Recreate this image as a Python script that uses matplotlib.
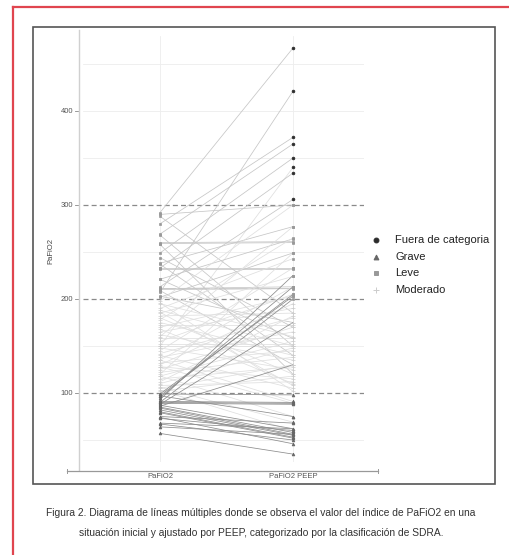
import numpy as np
import matplotlib.pyplot as plt
from matplotlib.lines import Line2D
from matplotlib.patches import Rectangle
import matplotlib.transforms as mtransforms

plt.rcParams['font.family'] = ['Liberation Sans', 'DejaVu Sans']

# PaFiO2 inicial y ajustado por PEEP, un paciente por posicion
pafio2_inicial = [
    292, 207, 280, 269, 249, 150, 233, 213,
    290, 260, 259, 238, 233, 232, 212, 211, 210, 221, 202,
    288, 268, 258, 244, 237, 221, 209, 203,
    198, 190, 185, 178, 170, 160, 145, 135, 120, 155,
    195, 188, 182, 180, 175, 172, 168, 165, 162, 158, 152, 150, 148, 142,
    140, 138, 132, 130, 128, 125, 122, 118, 115, 112, 110, 108, 105, 102,
    196, 186,
    128, 118, 106, 103, 135,
    99, 97, 95, 93, 90, 88, 86,
    91, 90, 89, 87, 85, 84, 82, 80, 79, 75, 74, 73, 68, 67, 64, 57, 99, 97,
]
pafio2_peep = [
    467, 421, 372, 365, 350, 340, 334, 306,
    300, 261, 260, 277, 233, 232, 212, 213, 211, 264, 249,
    185, 150, 120, 170, 140, 158, 130, 175,
    300, 243, 224, 265, 203, 277, 233, 213, 249, 205,
    160, 150, 185, 120, 140, 172, 110, 190, 135, 158, 152, 150, 125, 180,
    105, 165, 145, 195, 115, 170, 138, 155, 128, 182, 148, 112, 130, 118,
    102, 108,
    89, 75, 69, 60, 91,
    203, 205, 213, 225, 200, 175, 130,
    90, 89, 88, 62, 58, 56, 55, 53, 52, 68, 46, 60, 62, 50, 56, 35, 98, 75,
]

momentos = ['PaFiO2', 'PaFiO2 PEEP']
categorias = ['Fuera de categoria', 'Grave', 'Leve', 'Moderado']
colores = {'Fuera de categoria': '#2b2b2b', 'Grave': '#666666',
           'Leve': '#999999', 'Moderado': '#cccccc'}
colores_linea = {'Fuera de categoria': '#555555', 'Grave': '#8c8c8c',
                 'Leve': '#c6c6c6', 'Moderado': '#dfdfdf'}
formas = {'Fuera de categoria': 'o', 'Grave': '^', 'Leve': 's', 'Moderado': '+'}
cortes = [100, 200, 300]


def categoria(v):
    if v > 300:
        return 'Fuera de categoria'
    if v >= 200:
        return 'Leve'
    if v >= 100:
        return 'Moderado'
    return 'Grave'


W, H = 509, 555
fig = plt.figure(figsize=(W / 100, H / 100), dpi=100)


def fx(px):
    return px / W


def fy(py):
    return 1 - py / H


# marcos exteriores
fig.add_artist(Line2D([fx(13), fx(13)], [fy(7), fy(556)], color='#e0454f', lw=1.6))
fig.add_artist(Line2D([fx(13), fx(510)], [fy(7), fy(7)], color='#e0454f', lw=1.6))
fig.add_artist(Rectangle((fx(33), fy(484)), fx(495) - fx(33), fy(27) - fy(484),
                         fill=False, ec='#555555', lw=1.2, transform=fig.transFigure))

ax = fig.add_axes([fx(83), fy(462), fx(364) - fx(83), fy(36) - fy(462)])
ax.set_xlim(0.421, 2.534)
ax.set_ylim(26.6, 479.8)
for s in ax.spines.values():
    s.set_visible(False)
ax.set_xticks([])
ax.set_yticks([])

for v in range(50, 500, 50):
    if v not in cortes:
        ax.axhline(v, color='#ededed', lw=0.6, zorder=0)
for x in [1, 2]:
    ax.axvline(x, color='#ededed', lw=0.6, zorder=0)
for v in cortes:
    ax.axhline(v, color='#8a8a8a', lw=0.9, ls=(0, (4, 2.5)), zorder=1)

# lineas por paciente, color segun la categoria inicial
for a, b in zip(pafio2_inicial, pafio2_peep):
    ax.plot([1, 2], [a, b], color=colores_linea[categoria(a)], lw=0.55, zorder=2,
            solid_capstyle='butt')

for x, valores in [(1, pafio2_inicial), (2, pafio2_peep)]:
    for v in valores:
        c = categoria(v)
        ms = 3.0 if c == 'Moderado' else 2.0
        ax.plot(x, v, marker=formas[c], color=colores[c], ms=ms, mew=0.5,
                ls='none', zorder=3)

# ejes
trans_y = mtransforms.blended_transform_factory(fig.transFigure, ax.transData)
fig.add_artist(Line2D([fx(79), fx(79)], [fy(30), fy(470)], color='#d0d0d0', lw=1.0))
for v in [100, 200, 300, 400]:
    ax.text(fx(73), v, str(v), transform=trans_y, ha='right', va='center',
            fontsize=5.5, color='#555555')
    ax.add_line(Line2D([fx(74.5), fx(78)], [v, v], transform=trans_y,
                       color='#888888', lw=0.6, clip_on=False))
fig.add_artist(Line2D([fx(67), fx(378)], [fy(470.7), fy(470.7)], color='#999999', lw=0.9))
for px in [67, 378]:
    fig.add_artist(Line2D([fx(px), fx(px)], [fy(469), fy(472.5)], color='#999999', lw=0.7))
trans_x = mtransforms.blended_transform_factory(ax.transData, fig.transFigure)
for i, lab in enumerate(momentos):
    ax.text(i + 1, fy(477), lab, transform=trans_x, ha='center', va='center',
            fontsize=5.5, color='#555555')
fig.text(fx(51), fy(251), 'PaFiO2', rotation=90, ha='center', va='center',
         fontsize=5.5, color='#444444')

# leyenda
for i, c in enumerate(categorias):
    y = fy(240 + i * 16.7)
    ms = 5 if c == 'Moderado' else 3.5
    fig.add_artist(Line2D([fx(376)], [y], marker=formas[c], color=colores[c],
                          ms=ms, mew=0.7, ls='none'))
    fig.text(fx(395), y, c, ha='left', va='center', fontsize=8, color='#222222')

fig.text(fx(261), fy(513), 'Figura 2. Diagrama de líneas múltiples donde se observa el valor '
         'del índice de PaFiO2 en una', ha='center', va='center', fontsize=7.4, color='#333333')
fig.text(fx(261), fy(533), 'situación inicial y ajustado por PEEP, categorizado por la '
         'clasificación de SDRA.', ha='center', va='center', fontsize=7.4, color='#333333')

fig.savefig('out.png', dpi=100)
